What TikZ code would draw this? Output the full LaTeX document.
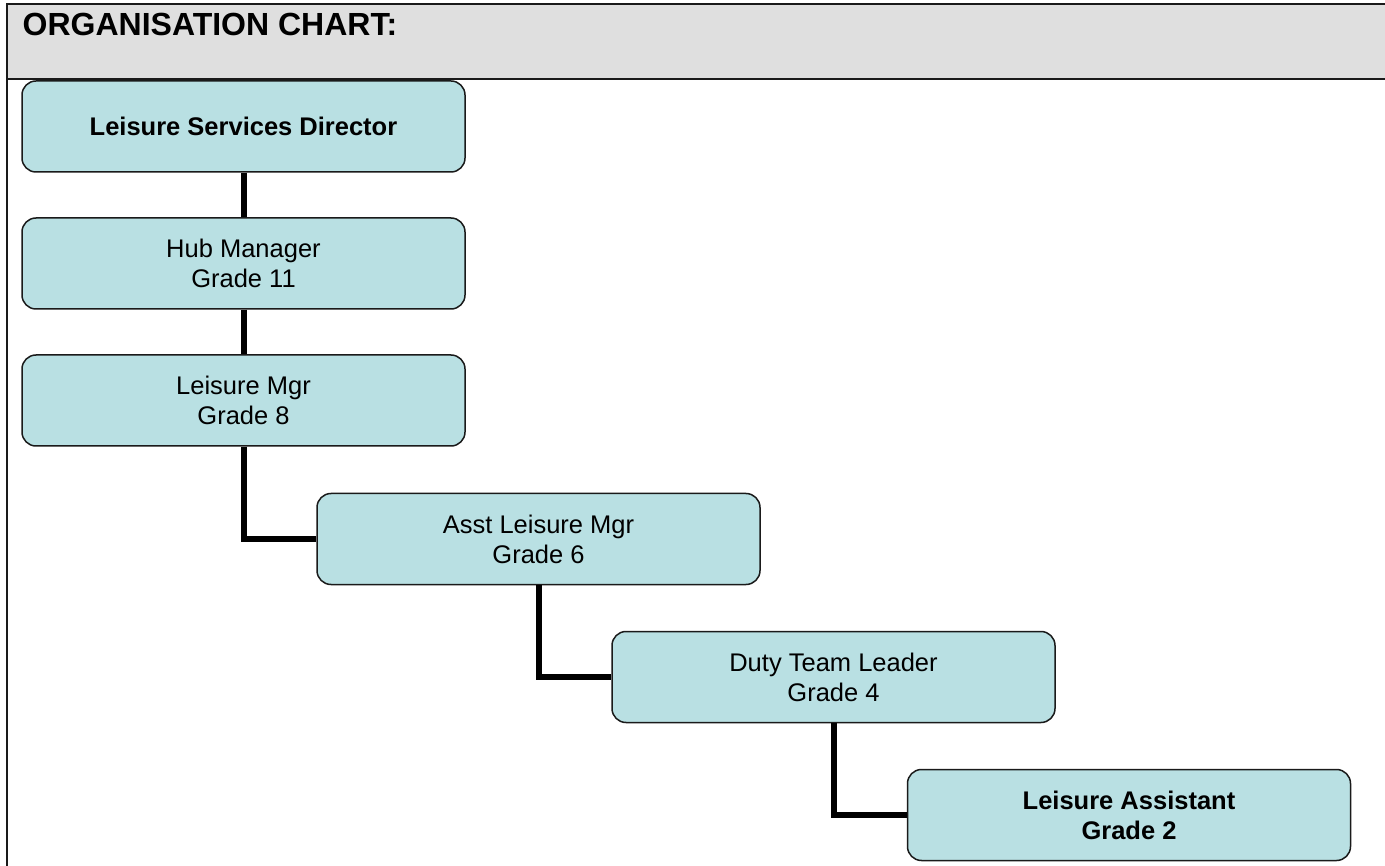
\documentclass[tikz,border=0pt]{standalone}
\usepackage{fontspec}
\setmainfont{Liberation Sans}
\definecolor{headgray}{HTML}{DFDFDF}
\definecolor{boxfill}{HTML}{B9E0E3}
\definecolor{edge}{HTML}{1A1A1A}
\begin{document}
\begin{tikzpicture}[x=1pt,y=-1pt,
  orgbox/.style={draw=edge, line width=1.5pt, fill=boxfill, rounded corners=14pt,
    minimum width=443pt, minimum height=91pt, inner sep=0pt, align=center,
    font=\fontsize{25.5}{30}\selectfont},
  link/.style={line width=6pt, black}]
\useasboundingbox (0,0) rectangle (1385,866);
\fill[white] (0,0) rectangle (1385,866);
% header
\draw[edge, line width=1.5pt, fill=headgray] (7,4) rectangle (1395,79);
\draw[edge, line width=1.5pt] (7,79) -- (7,875);
\node[anchor=base west, inner sep=0pt, font=\bfseries\fontsize{32}{38}\selectfont] (title) at (22.5,36) {ORGANISATION CHART:};
% boxes
\node[orgbox] (d) at (243.5,126.5) {\bfseries Leisure Services Director};
\node[orgbox] (h) at (243.5,263.5) {Hub Manager\\Grade 11};
\node[orgbox] (l) at (243.5,400.5) {Leisure Mgr\\Grade 8};
\node[orgbox] (a) at (538.5,539) {Asst Leisure Mgr\\Grade 6};
\node[orgbox] (t) at (833.5,677) {Duty Team Leader\\Grade 4};
\node[orgbox] (s) at (1129,815) {\bfseries Leisure Assistant\\\bfseries Grade 2};
% connectors
\draw[link] (d.south) -- (h.north);
\draw[link] (h.south) -- (l.north);
\draw[link] (l.south) |- (a.west);
\draw[link] (a.south) |- (t.west);
\draw[link] (t.south) |- (s.west);
\end{tikzpicture}
\end{document}
